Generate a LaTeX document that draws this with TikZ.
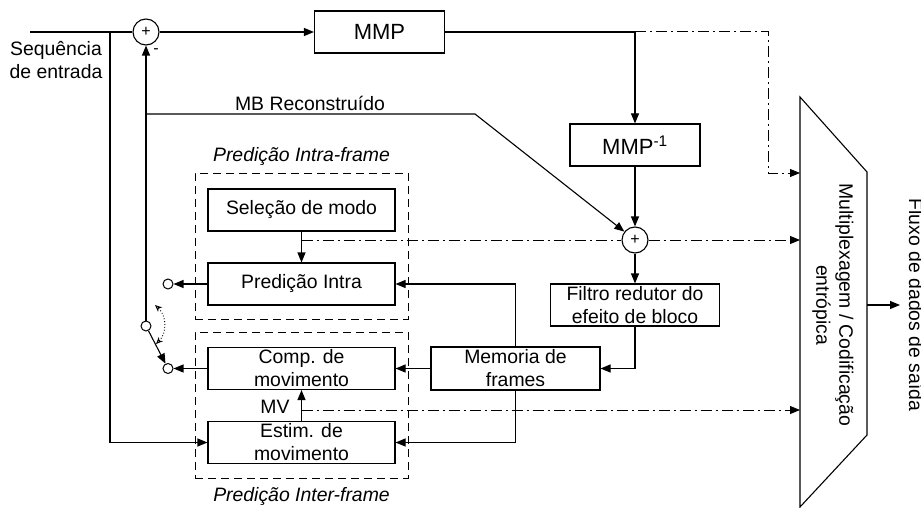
\documentclass[tikz,border=0pt]{standalone}
\usepackage{fontspec}
\setmainfont{Liberation Sans}
\usetikzlibrary{arrows.meta,calc}
\begin{document}
\begin{tikzpicture}[x=1pt,y=-1pt,line width=1.1pt,
  >={Triangle[length=10pt,width=8pt]},
  txt/.style={font=\fontsize{19.4}{23}\selectfont, inner sep=0pt},
  ttl/.style={font=\fontsize{19.4}{23}\selectfont\itshape, inner sep=0pt},
  blk/.style={draw, txt, align=center, minimum width=187pt, minimum height=42pt},
  big/.style={font=\fontsize{22}{26}\selectfont},
  sumc/.style={draw, circle, minimum size=26pt, inner sep=0pt, font=\fontsize{16}{16}\selectfont},
  term/.style={draw, circle, minimum size=10pt, inner sep=0pt, line width=1pt},
  grp/.style={draw, dash pattern=on 8pt off 5pt, line width=1pt, minimum width=213pt, minimum height=146pt, inner sep=0pt},
  dd/.style={dash pattern=on 11pt off 4pt on 2pt off 4pt, line width=1pt}]
\useasboundingbox (0,0) rectangle (921,508);

% processing blocks
\node[sumc] (s1) at (146,32) {+};
\node[blk, big, minimum width=130pt] (mmp) at (379.5,32) {MMP};
\node[blk, big, minimum width=130pt] (inv) at (635,145) {MMP\textsuperscript{-1}};
\node[sumc] (s2) at (635,240) {+};
\node[blk, minimum width=169pt] (fil) at (635,305) {Filtro redutor do\\efeito de bloco};
\node[blk, minimum width=169pt, minimum height=43pt] (mem) at (515.5,368.5) {Memoria de\\frames};
\node[blk] (sel) at (301.5,210) {Seleção de modo};
\node[blk] (pin) at (301.5,284) {Predição Intra};
\node[blk] (cmp) at (301.5,368.5) {Comp. de\\movimento};
\node[blk] (est) at (301.5,442.5) {Estim. de\\movimento};

% prediction groups
\node[grp] (gintra) at (301.5,246) {};
\node[grp] (ginter) at (301.5,405) {};
\node[ttl] (tintra) at (301.5,156) {Predição Intra-frame};
\node[ttl] (tinter) at (301.5,496) {Predição Inter-frame};

% switch terminals
\node[term] (t1) at (168,284) {};
\node[term] (t2) at (168,368.5) {};
\node[term] (pv) at (146,326) {};

% labels
\node[txt, align=center] (inlbl) at (56,60) {Sequência\\de entrada};
\node[font=\fontsize{16}{16}\selectfont, inner sep=0pt] (minus) at (156,51) {-};
\node[txt] (mblbl) at (310,103) {MB Reconstruído};
\node[txt] (mv) at (275,407) {MV};

% junctions and corners
\coordinate (in) at (30,32);
\coordinate (jin) at (110,32);
\coordinate (jmb) at (146,114);
\coordinate (kmb) at (475,114);
\coordinate (jm) at (635,32);
\coordinate (km) at (768,32);
\coordinate (jsel) at (301.5,240);
\coordinate (jmv) at (301.5,410);

% multiplexer
\coordinate (m1) at (800,97);
\coordinate (m2) at (867,172);
\coordinate (m3) at (867,435);
\coordinate (m4) at (800,507);
\coordinate (mi1) at (800,173);
\coordinate (mi2) at (800,240);
\coordinate (mi3) at (800,410);
\coordinate (mo) at (867,305);
\coordinate (mout) at (900,305);
\draw (m1) -- (m2) -- (m3) -- (m4) -- cycle;
\node[txt, align=center, rotate=-90] (muxlbl) at (833,305) {Multiplexagem / Codificação\\entrópica};
\node[txt, rotate=-90, anchor=base] (outlbl) at (909,305) {Fluxo de dados de saída};

% signal flow
\draw (in) -- (s1);
\draw[->] (s1) -- (mmp);
\draw[->] (jin) |- (est);
\draw[->] (pv) -- (s1);
\draw[->] (jmb) -- (kmb) -- (s2);
\draw (mmp) -- (jm);
\draw[->] (jm) -- (inv);
\draw[->] (inv) -- (s2);
\draw[->] (s2) -- (fil);
\draw[->] (fil) |- (mem);
\draw[->] (mem) |- (pin);
\draw[->] (mem) -- (cmp);
\draw[->] (mem) |- (est);
\draw[->] (sel) -- (pin);
\draw[->] (est) -- (cmp);
\draw[->] (pin) -- (t1);
\draw[->] (cmp) -- (t2);
\draw[->] (pv) -- (t2);
\draw[->] (mo) -- (mout);

% side information to the multiplexer
\draw[dd,->] (jm) -- (km) |- (mi1);
\draw[dd] (jsel) -- (s2);
\draw[dd,->] (s2) -- (mi2);
\draw[dd,->] (jmv) -- (mi3);

% switch movement
\coordinate (sw1) at (156,344);
\coordinate (sw2) at (155,305);
\draw[dotted, line width=0.9pt, {Stealth[open,length=7pt,width=6pt]}-{Stealth[open,length=7pt,width=6pt]}] (sw1) .. controls (167,333) and (167,316) .. (sw2);
\end{tikzpicture}
\end{document}
